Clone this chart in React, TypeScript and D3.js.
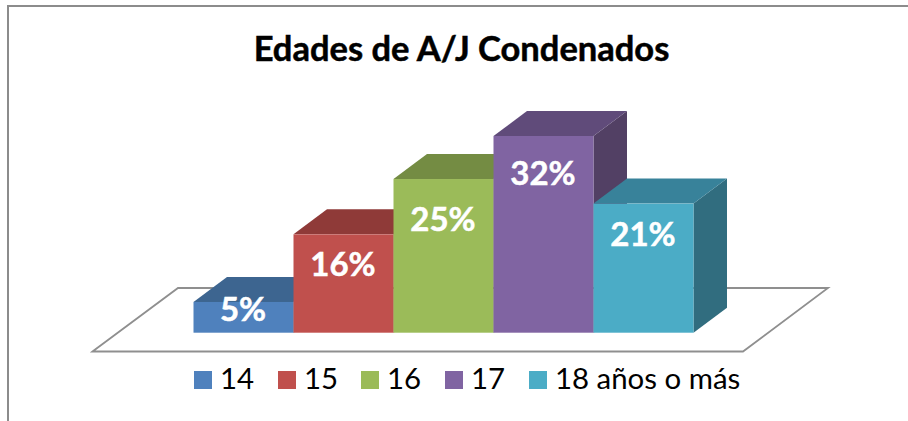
import React from "react";
import * as d3 from "d3";

const categories = ["14", "15", "16", "17", "18 años o más"];
const values = [5, 16, 25, 32, 21];
const frontColors = ["#4f81bd", "#c0504d", "#9bbb59", "#8064a2", "#4bacc6"];
const topColors = ["#3d6590", "#8f3a38", "#748c43", "#604b7a", "#38829a"];
const sideColors = ["#335577", "#7a3230", "#627638", "#524064", "#316d7f"];
const legendX = [194, 278, 361, 445, 529];
const labelOffsets = [19, 41.4, 52, 49, 42.7];
const title = "Edades de A/J Condenados";

const DX = 33.5;
const DY = 25;
const FONT = "Lato, 'Open Sans', sans-serif";

export default function App() {
  const x = d3.scaleBand<string>().domain(categories).range([193.5, 693.5]).padding(0);
  const y = d3.scaleLinear().domain([0, 32]).range([332.7, 136]);
  const w = x.bandwidth();
  const pts = (p: [number, number][]) => p.map((q) => q.join(",")).join(" ");

  return (
    <svg
      width={908}
      height={421}
      style={{ position: "absolute", left: 0, top: 0, background: "#fff" }}
    >
      <path d="M8 421 V6 H908" fill="none" stroke="#8c8c8c" strokeWidth={2} />
      <text
        x={461.5}
        y={61}
        textAnchor="middle"
        fontFamily={FONT}
        fontWeight={700}
        fontSize={34.5}
        fill="#000"
        stroke="#000"
        strokeWidth={0.5}
      >
        {title}
      </text>
      <polygon
        points={pts([[92.5, 351.5], [178, 288], [828, 288], [743, 351.5]])}
        fill="#fff"
        stroke="#8f8f8f"
        strokeWidth={1.8}
      />
      {categories.map((c, i) => {
        const x0 = x(c)!;
        const x1 = x0 + w;
        const top = y(values[i]);
        const base = y(0);
        return (
          <g key={c}>
            <polygon
              points={pts([[x1, top], [x1 + DX, top - DY], [x1 + DX, base - DY], [x1, base]])}
              fill={sideColors[i]}
            />
            <polygon
              points={pts([[x0, top], [x0 + DX, top - DY], [x1 + DX, top - DY], [x1, top]])}
              fill={topColors[i]}
            />
            <rect x={x0} y={top} width={w} height={base - top} fill={frontColors[i]} />
          </g>
        );
      })}
      {categories.map((c, i) => (
        <text
          key={c}
          x={x(c)! + w / 2 - 0.5}
          y={y(values[i]) + labelOffsets[i]}
          textAnchor="middle"
          fontFamily={FONT}
          fontWeight={700}
          fontSize={33}
          fill="#fff"
          stroke="#fff"
          strokeWidth={0.5}
        >
          {values[i]}%
        </text>
      ))}
      {categories.map((c, i) => (
        <g key={c}>
          <rect x={legendX[i]} y={371} width={18} height={18} fill={frontColors[i]} />
          <text
            x={legendX[i] + 26}
            y={389}
            fontFamily={FONT}
            fontSize={29.4}
            fill="#000"
          >
            {c}
          </text>
        </g>
      ))}
    </svg>
  );
}
